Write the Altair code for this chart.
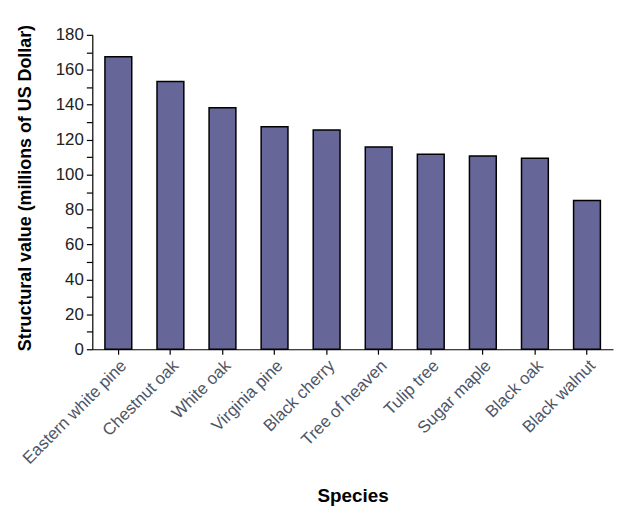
import altair as alt
import pandas as pd

species = ["Eastern white pine", "Chestnut oak", "White oak", "Virginia pine",
           "Black cherry", "Tree of heaven", "Tulip tree", "Sugar maple",
           "Black oak", "Black walnut"]
values = [167.5, 153.3, 138.2, 127.4, 125.5, 115.8, 111.7, 110.7, 109.4, 85.2]
y_ticks = list(range(0, 181, 10))

df = pd.DataFrame({"Species": species, "Value": values})

chart = alt.Chart(df).mark_bar(
    color="#666699", stroke="#000000", strokeWidth=1.5
).encode(
    x=alt.X("Species:N", sort=species,
            scale=alt.Scale(paddingInner=0.485, paddingOuter=0.2425),
            axis=alt.Axis(title="Species", labelAngle=-45,
                          labelFont="Liberation Sans", labelFontSize=17,
                          labelColor="#4d5566", labelPadding=3,
                          domainColor="#000000", domainWidth=1.2,
                          tickColor="#000000", tickSize=5, tickWidth=1.2,
                          titleFont="Liberation Sans", titleFontSize=19,
                          titleFontWeight="bold", titleColor="#000000",
                          titleY=138, titleBaseline="top")),
    y=alt.Y("Value:Q", scale=alt.Scale(domain=[0, 180], nice=False),
            axis=alt.Axis(title="Structural value (millions of US Dollar)",
                          values=y_ticks,
                          labelExpr="datum.value % 20 === 0 ? datum.label : ''",
                          labelFont="Liberation Sans Narrow, Arial Narrow, Liberation Sans",
                          labelFontSize=17, labelColor="#222222", labelPadding=3,
                          domainColor="#000000", domainWidth=1.2,
                          tickColor="#000000", tickSize=6, tickWidth=1.2,
                          grid=False,
                          titleFont="Liberation Sans", titleFontSize=18,
                          titleFontWeight="bold", titleColor="#000000",
                          titleX=-58, titleY=154, titleAngle=-90,
                          titleAlign="center", titleBaseline="bottom")),
).properties(
    width=525, height=317,
    autosize=alt.AutoSizeParams(type="none"),
    padding={"left": 85, "top": 25, "right": 2, "bottom": 160},
).configure_view(stroke=None)

chart.save("out.html", embed_options={"renderer": "svg", "actions": False})
